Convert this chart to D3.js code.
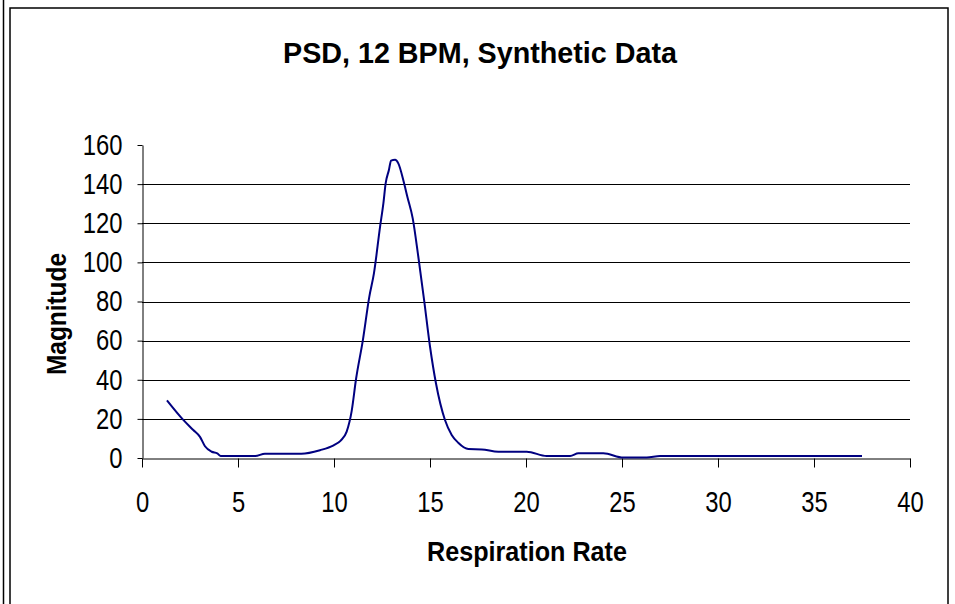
<!DOCTYPE html>
<html>
<head>
<meta charset="utf-8">
<script src="https://cdn.jsdelivr.net/npm/d3@7"></script>
<style>
  body { margin: 0; background: #fff; }
  svg { display: block; }
</style>
</head>
<body>
<div id="chart"></div>
<script>
// respiration rate (BPM) and PSD magnitude
var rates = [1.3, 2.15, 2.67, 3.02, 3.28, 3.63, 3.92, 4.1, 5.9, 6.4, 8.3, 9.27, 9.98, 10.35,
  10.66, 10.92, 11.15, 11.5, 11.84, 12.08, 12.4, 12.57, 12.69, 12.86, 12.97, 13.18, 13.35,
  13.65, 13.82, 14.1, 14.39, 14.69, 15.0, 15.31, 15.78, 16.13, 16.47, 17.0, 17.7, 18.56,
  20.04, 21.08, 22.3, 22.73, 24.03, 25.07, 26.29, 26.98, 37.5];
var magnitudes = [29.5, 19.5, 14.3, 10.8, 6, 3.2, 2.4, 1, 1, 2.2, 2.2, 4, 6.5, 8.9,
  13.5, 24, 40.5, 60, 82.5, 94.4, 118.3, 130, 140.4, 147.2, 152, 152.4, 150.6,
  140.4, 133.6, 122.5, 103, 81, 57, 38.2, 19.4, 11.8, 7.8, 4.6, 4.4, 3.2,
  3.2, 1.0, 1.0, 2.4, 2.4, 0.2, 0.2, 1.0, 1.0];
var xTicks = [0, 5, 10, 15, 20, 25, 30, 35, 40];
var yTicks = [0, 20, 40, 60, 80, 100, 120, 140, 160];
var gridValues = [20, 40, 60, 80, 100, 120, 140];

var title = 'PSD, 12 BPM, Synthetic Data';
var xTitle = 'Respiration Rate';
var yTitle = 'Magnitude';

var points = rates.map(function(r, i){ return {x: r, y: magnitudes[i]}; });

var svg = d3.select('#chart')
  .append('svg')
  .attr('width', 955)
  .attr('height', 604);

// outer frame, like the pasted chart object
svg.append('line')
  .attr('x1', 3.5).attr('x2', 3.5)
  .attr('y1', 0).attr('y2', 604)
  .attr('stroke', '#000').attr('stroke-width', 1.5);
svg.append('rect')
  .attr('x', 10).attr('y', 8)
  .attr('width', 938).attr('height', 700)
  .attr('fill', 'none')
  .attr('stroke', '#000').attr('stroke-width', 1.5);

var x = d3.scaleLinear().domain([0, 40]).range([142, 910]);
var y = d3.scaleLinear().domain([0, 160]).range([458, 145]);

// narrow the Arial-like glyphs a bit
function squeeze(sel, k){
  sel.each(function(){
    var w = this.getComputedTextLength();
    d3.select(this).attr('textLength', w * k).attr('lengthAdjust', 'spacingAndGlyphs');
  });
}

svg.append('g')
  .selectAll('line.grid')
  .data(gridValues)
  .enter()
    .append('line')
    .classed('grid', true)
    .attr('x1', x(0)).attr('x2', x(40))
    .attr('y1', function(d){ return Math.round(y(d)) + 0.5; })
    .attr('y2', function(d){ return Math.round(y(d)) + 0.5; })
    .attr('stroke', '#000')
    .attr('stroke-width', 1);

var xAxis = svg.append('g')
  .attr('transform', 'translate(0,' + (Math.round(y(0)) + 0.5) + ')')
  .call(d3.axisBottom(x).tickValues(xTicks).tickSize(9).tickSizeOuter(0).tickPadding(24));
var yAxis = svg.append('g')
  .attr('transform', 'translate(' + (Math.round(x(0)) + 0.5) + ',0)')
  .call(d3.axisLeft(y).tickValues(yTicks).tickSize(5).tickSizeOuter(0).tickPadding(15));

[xAxis, yAxis].forEach(function(a){
  a.select('.domain').attr('stroke', '#000').attr('stroke-width', 1);
  a.selectAll('.tick line').attr('stroke', '#000').attr('stroke-width', 1);
  a.selectAll('.tick text')
    .attr('fill', '#000')
    .attr('font-family', 'Liberation Sans, Arial, sans-serif')
    .attr('font-size', 29);
  squeeze(a.selectAll('.tick text'), 0.82);
});

var line = d3.line()
  .x(function(d){ return x(d.x); })
  .y(function(d){ return y(d.y); })
  .curve(d3.curveMonotoneX);

svg.append('path')
  .datum(points)
  .attr('d', line)
  .attr('fill', 'none')
  .attr('stroke', '#000080')
  .attr('stroke-width', 2);

svg.append('text')
  .attr('x', 480).attr('y', 63)
  .attr('text-anchor', 'middle')
  .attr('font-family', 'Liberation Sans, Arial, sans-serif')
  .attr('font-weight', 'bold')
  .attr('font-size', 29)
  .attr('textLength', 394)
  .attr('lengthAdjust', 'spacingAndGlyphs')
  .text(title);

svg.append('text')
  .attr('x', 527).attr('y', 561)
  .attr('text-anchor', 'middle')
  .attr('font-family', 'Liberation Sans, Arial, sans-serif')
  .attr('font-weight', 'bold')
  .attr('font-size', 28)
  .attr('textLength', 200)
  .attr('lengthAdjust', 'spacingAndGlyphs')
  .text(xTitle);

svg.append('text')
  .attr('transform', 'translate(66,314) rotate(-90)')
  .attr('text-anchor', 'middle')
  .attr('font-family', 'Liberation Sans, Arial, sans-serif')
  .attr('font-weight', 'bold')
  .attr('font-size', 27)
  .attr('textLength', 122)
  .attr('lengthAdjust', 'spacingAndGlyphs')
  .text(yTitle);
</script>
</body>
</html>
